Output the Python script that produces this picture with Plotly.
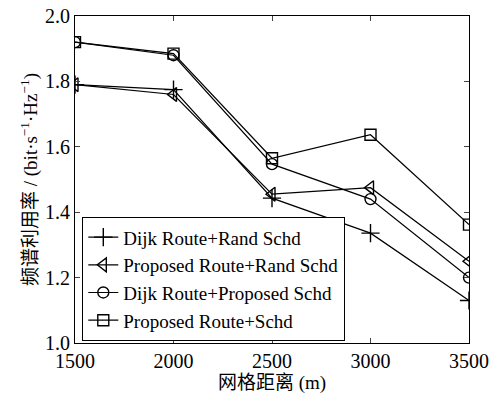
import plotly.graph_objects as go

x_vals = [1500, 2000, 2500, 3000, 3500]
dijk_rand = [1.79, 1.775, 1.443, 1.336, 1.13]
prop_rand = [1.79, 1.76, 1.455, 1.475, 1.25]
dijk_prop = [1.92, 1.88, 1.547, 1.44, 1.20]
prop_schd = [1.92, 1.885, 1.565, 1.637, 1.362]
names = ["Dijk Route+Rand Schd", "Proposed Route+Rand Schd",
         "Dijk Route+Proposed Schd", "Proposed Route+Schd"]
symbols = ["cross-thin-open", "triangle-left-open", "circle-open", "square-open"]
sizes = [13, 12, 11, 11]
x_ticks = [1500, 2000, 2500, 3000, 3500]
y_ticks = [1.0, 1.2, 1.4, 1.6, 1.8, 2.0]

fig = go.Figure()
for ys, nm, sym, sz in zip([dijk_rand, prop_rand, dijk_prop, prop_schd], names, symbols, sizes):
    fig.add_trace(go.Scatter(
        x=x_vals, y=ys, name=nm, mode="lines+markers",
        line=dict(color="black", width=1.2),
        marker=dict(symbol=sym, size=sz, color="black",
                    line=dict(color="black", width=1.4)),
    ))

serif = "Liberation Serif"
cjk = "Liberation Serif, Noto Sans CJK SC"
fig.update_layout(
    width=494, height=389,
    margin=dict(l=67, r=33, t=8, b=54),
    paper_bgcolor="white", plot_bgcolor="white",
    font=dict(family=serif, size=20, color="black"),
    showlegend=True,
    legend=dict(x=0.018, y=0.006, xanchor="left", yanchor="bottom",
                bordercolor="black", borderwidth=1.2, bgcolor="white",
                font=dict(family=serif, size=19), tracegroupgap=0,
                itemwidth=30),
    xaxis=dict(range=[1500, 3500], tickvals=x_ticks, ticks="inside", ticklen=5,
               showline=True, linecolor="black", linewidth=1.2, mirror="ticks",
               showgrid=False, zeroline=False, automargin=False,
               tickfont=dict(size=20), ticklabeloverflow="allow",
               title=dict(text="网格距离 (m)", font=dict(family=cjk, size=19), standoff=0)),
    yaxis=dict(range=[1.0, 2.0], tickvals=y_ticks, tickformat=".1f", ticks="inside", ticklen=5,
               showline=True, linecolor="black", linewidth=1.2, mirror="ticks",
               showgrid=False, zeroline=False, automargin=False,
               tickfont=dict(size=20), ticklabeloverflow="allow",
               title=dict(text="频谱利用率 / (bit·s<sup>−1</sup>·Hz<sup>−1</sup>)",
                          font=dict(family=cjk, size=19), standoff=2)),
)
fig.write_html("out.html")
